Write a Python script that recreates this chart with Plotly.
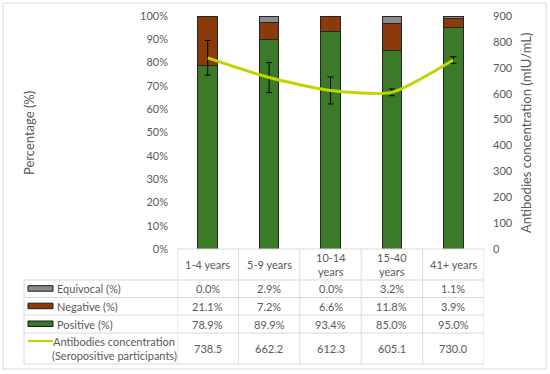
import plotly.graph_objects as go

categories = ["1-4 years", "5-9 years", "10-14 years", "15-40 years", "41+ years"]
header_lines = [["1-4 years"], ["5-9 years"], ["10-14", "years"], ["15-40", "years"], ["41+ years"]]
positive = [78.9, 89.9, 93.4, 85.0, 95.0]
negative = [21.1, 7.2, 6.6, 11.8, 3.9]
equivocal = [0.0, 2.9, 0.0, 3.2, 1.1]
antibodies = [738.5, 662.2, 612.3, 605.1, 730.0]
antibodies_err = [67, 58, 52, 13, 13]

C_POS = "#3B7A28"
C_NEG = "#8B3A0C"
C_EQU = "#8C8C8C"
C_LINE = "#BFD400"
C_TXT = "#595959"
C_GRID = "#D9D9D9"
FONT = "Lato"

W, H = 550, 374
L, R, T, B = 177, 484, 16, 249
xpos = list(range(len(categories)))

def py(p):
    return (B - p) / (B - T)

def px(p):
    return (p - L) / (R - L)

fig = go.Figure()
bar_line = dict(color="#262626", width=1)
fig.add_trace(go.Bar(x=xpos, y=positive, name="Positive (%)", marker=dict(color=C_POS, line=bar_line), width=0.32))
fig.add_trace(go.Bar(x=xpos, y=negative, name="Negative (%)", marker=dict(color=C_NEG, line=bar_line), width=0.32))
fig.add_trace(go.Bar(x=xpos, y=equivocal, name="Equivocal (%)", marker=dict(color=C_EQU, line=bar_line), width=0.32))
fig.add_trace(go.Scatter(x=xpos, y=antibodies, yaxis="y2", mode="lines",
                         line=dict(color=C_LINE, width=3, shape="spline", smoothing=0.6),
                         error_y=dict(type="data", array=antibodies_err, color="#000000", thickness=1, width=3),
                         name="Antibodies concentration"))

shapes = []
ann = []
line_style = dict(color=C_GRID, width=1)
# outer border
shapes.append(dict(type="rect", xref="paper", yref="paper", x0=px(3), x1=px(546), y0=py(3), y1=py(369),
                   line=line_style, layer="below"))
# horizontal table lines
rows_y = [249, 280, 297.5, 315, 333, 364]
for i, yy in enumerate(rows_y):
    x0 = 177 if i == 0 else 24
    shapes.append(dict(type="line", xref="paper", yref="paper", x0=px(x0), x1=px(484), y0=py(yy), y1=py(yy), line=line_style))
# vertical lines
shapes.append(dict(type="line", xref="paper", yref="paper", x0=px(24), x1=px(24), y0=py(280), y1=py(364), line=line_style))
for i in range(len(categories) + 1):
    shapes.append(dict(type="line", xref="x", yref="paper", x0=i - 0.5, x1=i - 0.5, y0=py(249), y1=py(364), line=line_style))

tfont = dict(family=FONT, size=11, color=C_TXT)

def text(x, y, s, xref="paper", xanchor="center", font=tfont, **kw):
    ann.append(dict(x=x, y=y, xref=xref, yref="paper", text=s, showarrow=False, font=font,
                    xanchor=xanchor, yanchor="middle", **kw))

# header
for i, lines in enumerate(header_lines):
    if len(lines) == 1:
        text(i, py(264.5), lines[0], xref="x")
    else:
        text(i, py(257.5), lines[0], xref="x")
        text(i, py(271.5), lines[1], xref="x")

row_centers = {"equ": 288.7, "neg": 306.2, "pos": 324, "ab": 348.5}
for i in xpos:
    text(i, py(row_centers["equ"]), f"{equivocal[i]:.1f}%", xref="x")
    text(i, py(row_centers["neg"]), f"{negative[i]:.1f}%", xref="x")
    text(i, py(row_centers["pos"]), f"{positive[i]:.1f}%", xref="x")
    text(i, py(row_centers["ab"]), f"{antibodies[i]:.1f}", xref="x")

# legend keys
for key, col, lab in [("equ", C_EQU, "Equivocal (%)"), ("neg", C_NEG, "Negative (%)"), ("pos", C_POS, "Positive (%)")]:
    yc = row_centers[key]
    shapes.append(dict(type="rect", xref="paper", yref="paper", x0=px(28), x1=px(53), y0=py(yc - 3), y1=py(yc + 2.5),
                       fillcolor=col, line=dict(color="#1a1a1a", width=1)))
    text(px(55), py(yc), lab, xanchor="left")
shapes.append(dict(type="line", xref="paper", yref="paper", x0=px(28), x1=px(53), y0=py(341), y1=py(341),
                   line=dict(color=C_LINE, width=2)))
text(px(114), py(341.5), "Antibodies concentration")
text(px(114), py(355.5), "(Seropositive participants)")

# axis titles
tfont_t = dict(family=FONT, size=13, color=C_TXT)
text(px(29), py(133), "Percentage (%)", font=tfont_t, textangle=-90)
text(px(526), py(133), "Antibodies concentration (mIU/mL)", font=tfont_t, textangle=-90)

fig.update_layout(
    width=W, height=H, barmode="stack", showlegend=False,
    margin=dict(l=L, r=W - R, t=T, b=H - B, pad=0, autoexpand=False),
    paper_bgcolor="white", plot_bgcolor="white",
    xaxis=dict(range=[-0.5, 4.5], showticklabels=False, showgrid=False, zeroline=False, showline=False, ticks="",
               automargin=False),
    yaxis=dict(range=[0, 100], dtick=10, ticksuffix="%", showgrid=False, zeroline=False, showline=False,
               tickfont=dict(family=FONT, size=11, color=C_TXT), ticklabelstandoff=8, automargin=False),
    yaxis2=dict(range=[0, 900], dtick=100, overlaying="y", side="right", showgrid=False, zeroline=False,
                showline=False, tickfont=dict(family=FONT, size=11, color=C_TXT), ticklabelstandoff=8,
                automargin=False),
    shapes=shapes, annotations=ann,
)
fig.write_html("out.html", config={"displayModeBar": False},
               post_script="document.body.style.margin='0';document.body.style.padding='0';")
